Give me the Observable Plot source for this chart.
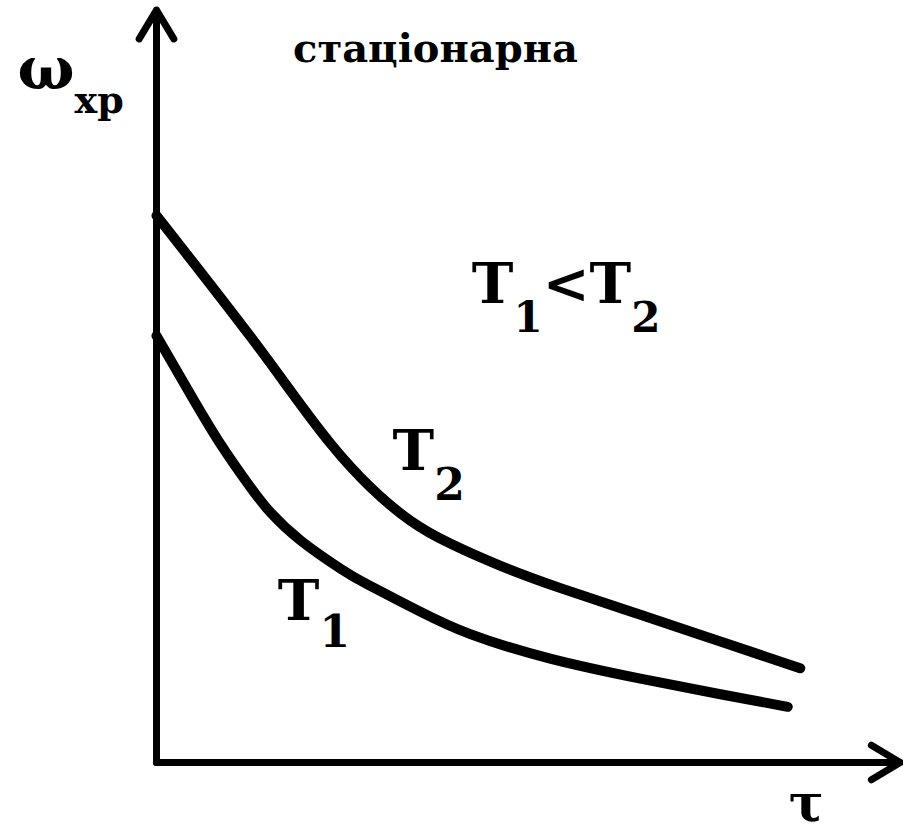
<!DOCTYPE html>
<html>
<head>
<meta charset="utf-8">
<script src="https://cdn.jsdelivr.net/npm/d3@7"></script>
<script src="https://cdn.jsdelivr.net/npm/@observablehq/plot@0.6"></script>
<style>
  html, body { margin: 0; padding: 0; background: #fff; }
  #chart svg { display: block; }
</style>
</head>
<body>
<div id="chart"></div>
<script>
// τ values (time) and ω_хр values for each temperature curve
const tauT2   = [0, 0.59, 1.27, 1.81, 2.35, 2.89, 3.43, 3.97, 4.65, 5.46, 6.54, 7.62, 8.70];
const omegaT2 = [7.37, 6.62, 5.74, 5.01, 4.30, 3.71, 3.26, 2.95, 2.65, 2.35, 1.99, 1.63, 1.27];
const tauT1   = [0, 0.46, 0.86, 1.27, 1.54, 1.95, 2.49, 2.85, 3.53, 4.24, 5.32, 6.54, 7.62, 8.53];
const omegaT1 = [5.75, 4.96, 4.30, 3.71, 3.37, 2.99, 2.61, 2.40, 2.05, 1.73, 1.40, 1.13, 0.92, 0.75];

// annotation texts ("_" marks a subscript) and their anchor points in data units
const labelText = ["стаціонарна", "ω_хр", "T_1<T_2", "T_2", "T_1", "τ"];
const labelX    = [3.77, -1.88, 4.26, 3.19, 1.64, 8.78];
const labelY    = [9.61, 9.34, 6.44, 4.18, 2.16, -0.56];

// axis arrows (from origin)
const axisEndX = [0, 10.05];
const axisEndY = [10.14, 0];

// ---- presentation ----
const font = "DejaVu Serif";
const labelStyle = [
  {size: 40, anchor: "middle"},
  {size: 60, anchor: "start", sub: 38, dy: 24},
  {size: 56, anchor: "start", sub: 42, dy: 29},
  {size: 56, anchor: "start", sub: 44, dy: 30},
  {size: 56, anchor: "start", sub: 44, dy: 27},
  {size: 52, anchor: "middle"}
];

const t2 = tauT2.map((t, i) => ({tau: t, omega: omegaT2[i]}));
const t1 = tauT1.map((t, i) => ({tau: t, omega: omegaT1[i]}));
const arrows = axisEndX.map((x, i) => ({x1: 0, y1: 0, x2: x, y2: axisEndY[i]}));

const textMarks = labelText.map((t, i) =>
  Plot.text([{x: labelX[i], y: labelY[i], text: t}], {
    x: "x", y: "y", text: "text",
    fontSize: labelStyle[i].size, fontFamily: font, fontWeight: "bold",
    textAnchor: labelStyle[i].anchor, lineAnchor: "middle", fill: "black"
  })
);

const chart = Plot.plot({
  width: 903,
  height: 834,
  marginLeft: 156,
  marginRight: 7,
  marginTop: 20,
  marginBottom: 72,
  x: {domain: [0, 10], axis: null},
  y: {domain: [0, 10], axis: null},
  style: {background: "white", overflow: "visible"},
  marks: [
    Plot.arrow(arrows, {x1: "x1", y1: "y1", x2: "x2", y2: "y2",
      stroke: "black", strokeWidth: 7, headLength: 7.2, headAngle: 62, bend: 0}),
    Plot.line(t2, {x: "tau", y: "omega", stroke: "black", strokeWidth: 10, curve: "natural"}),
    Plot.line(t1, {x: "tau", y: "omega", stroke: "black", strokeWidth: 10, curve: "natural"}),
    ...textMarks
  ]
});

// turn "_" markup into subscript tspans
d3.select(chart).selectAll("text").each(function () {
  const str = this.textContent;
  if (!str.includes("_")) return;
  const idx = labelText.indexOf(str);
  const st = labelStyle[idx];
  const parts = str.split(/(_[0-9\u0430-\u044f]+)/).filter(p => p !== "");
  const el = d3.select(this);
  this.textContent = "";
  let lowered = false;
  for (const p of parts) {
    if (p.startsWith("_")) {
      el.append("tspan").attr("font-size", st.sub).attr("dy", st.dy).text(p.slice(1));
      lowered = true;
    } else {
      const ts = el.append("tspan").text(p);
      if (lowered) { ts.attr("dy", -st.dy); lowered = false; }
    }
  }
});

document.getElementById("chart").appendChild(chart);
</script>
</body>
</html>
